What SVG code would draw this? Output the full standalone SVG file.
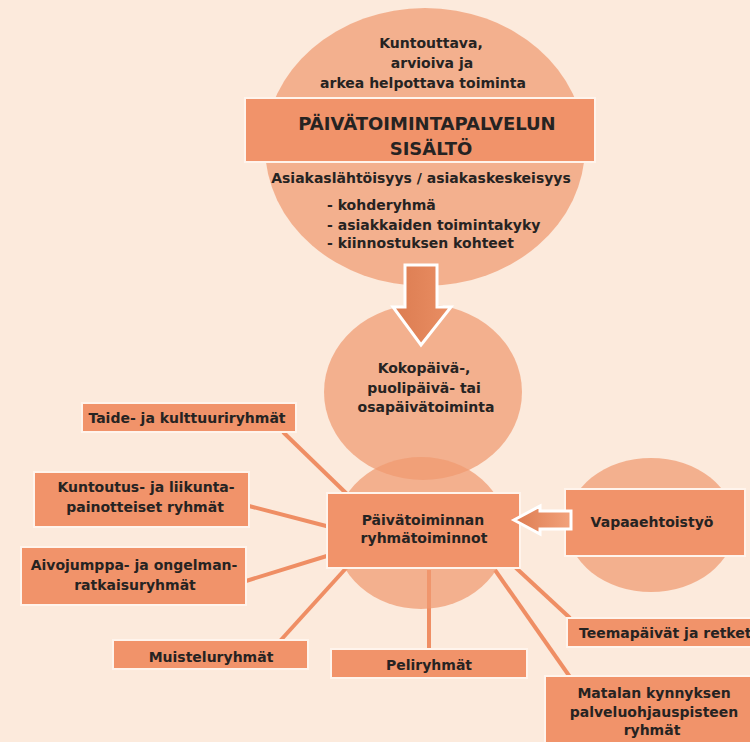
<svg xmlns="http://www.w3.org/2000/svg" width="750" height="742" viewBox="0 0 750 742">
  <defs>
    <style>
      .bg { fill: #FCEADC; }
      .disc { fill: #F09A70; fill-opacity: 0.72; }
      .box { fill: #F1936A; stroke: #FFF4EC; stroke-width: 2; }
      .link { stroke: #EF8E64; stroke-width: 4; fill: none; }
      .blk { fill: url(#arrowFill); stroke: #FFFFFF; stroke-width: 3; stroke-linejoin: miter; }
      .blkH { fill: url(#arrowFillH); stroke: #FFFFFF; stroke-width: 3; stroke-linejoin: miter; }
      text { font-family: "DejaVu Sans", "Liberation Sans", sans-serif; font-weight: bold; fill: #262322; font-size: 14px; text-anchor: middle; }
      .title { font-size: 18px; }
      .lft { text-anchor: start; }
    </style>
    <linearGradient id="arrowFill" x1="0" y1="0" x2="1" y2="0">
      <stop offset="0" stop-color="#DC7C51"/>
      <stop offset="1" stop-color="#E98E63"/>
    </linearGradient>
    <linearGradient id="arrowFillH" x1="0" y1="0" x2="1" y2="0">
      <stop offset="0" stop-color="#DD7B50"/>
      <stop offset="1" stop-color="#F2A27C"/>
    </linearGradient>
  </defs>

  <rect class="bg" x="0" y="0" width="750" height="742"/>

  <!-- connectors from the group-activity hub to its satellite boxes -->
  <g id="connectors">
    <line class="link" x1="283" y1="432" x2="350" y2="497"/>
    <line class="link" x1="249" y1="506" x2="330" y2="527"/>
    <line class="link" x1="246" y1="581" x2="330" y2="555"/>
    <line class="link" x1="280" y1="641" x2="348" y2="566"/>
    <line class="link" x1="429" y1="570" x2="429" y2="649"/>
    <line class="link" x1="515" y1="567" x2="570" y2="618"/>
    <line class="link" x1="495" y1="570" x2="570" y2="677"/>
  </g>

  <!-- upper content circle -->
  <g id="content">
    <ellipse class="disc" cx="425" cy="147" rx="160" ry="139"/>
    <text x="431" y="48">Kuntouttava,</text>
    <text x="432" y="68">arvioiva ja</text>
    <text x="423" y="88">arkea helpottava toiminta</text>
    <rect class="box" x="245" y="98" width="350" height="64"/>
    <text class="title" x="427" y="130">PÄIVÄTOIMINTAPALVELUN</text>
    <text class="title" x="431" y="155">SISÄLTÖ</text>
    <text x="421" y="183">Asiakaslähtöisyys / asiakaskeskeisyys</text>
    <text class="lft" x="327" y="210">- kohderyhmä</text>
    <text class="lft" x="327" y="230">- asiakkaiden toimintakyky</text>
    <text class="lft" x="327" y="248">- kiinnostuksen kohteet</text>
  </g>

  <!-- full / half / part day circle -->
  <g id="daytime">
    <ellipse class="disc" cx="423" cy="392" rx="99" ry="88"/>
    <text x="424" y="373">Kokopäivä-,</text>
    <text x="424" y="393">puolipäivä- tai</text>
    <text x="426" y="412">osapäivätoiminta</text>
  </g>

  <!-- arrow down into the day circle -->
  <g id="arrow-down">
    <path class="blk" d="M405,265 L437,265 L437,307 L451,307 L421,345 L393,307 L405,307 Z"/>
  </g>

  <!-- group activities hub -->
  <g id="hub">
    <ellipse class="disc" cx="421" cy="533" rx="86" ry="76"/>
    <rect class="box" x="327" y="493" width="193" height="75"/>
    <text x="423" y="525">Päivätoiminnan</text>
    <text x="424" y="543">ryhmätoiminnot</text>
  </g>

  <!-- volunteer work -->
  <g id="volunteer">
    <ellipse class="disc" cx="651" cy="525" rx="84" ry="67"/>
    <rect class="box" x="565" y="489" width="180" height="67"/>
    <text x="652" y="527">Vapaaehtoistyö</text>
  </g>

  <!-- arrow from volunteer work to hub -->
  <g id="arrow-left">
    <path class="blkH" d="M571,511 L571,529 L540,529 L540,534 L514,520 L540,506 L540,511 Z"/>
  </g>

  <g id="art">
    <rect class="box" x="82" y="403" width="214" height="29"/>
    <text x="187" y="423">Taide- ja kulttuuriryhmät</text>
  </g>

  <g id="rehab">
    <rect class="box" x="34" y="472" width="215" height="55"/>
    <text x="146" y="492">Kuntoutus- ja liikunta-</text>
    <text x="145" y="512">painotteiset ryhmät</text>
  </g>

  <g id="brain">
    <rect class="box" x="21" y="547" width="225" height="58"/>
    <text x="134" y="570">Aivojumppa- ja ongelman-</text>
    <text x="135" y="590">ratkaisuryhmät</text>
  </g>

  <g id="memories">
    <rect class="box" x="113" y="640" width="195" height="29"/>
    <text x="211" y="662">Muisteluryhmät</text>
  </g>

  <g id="games">
    <rect class="box" x="331" y="649" width="196" height="29"/>
    <text x="429" y="670">Peliryhmät</text>
  </g>

  <g id="themes">
    <rect class="box" x="567" y="618" width="190" height="29"/>
    <text class="lft" x="579" y="638">Teemapäivät ja retket</text>
  </g>

  <g id="lowthreshold">
    <rect class="box" x="545" y="676" width="212" height="72"/>
    <text x="654" y="698">Matalan kynnyksen</text>
    <text x="654" y="717">palveluohjauspisteen</text>
    <text x="652" y="735">ryhmät</text>
  </g>
</svg>
